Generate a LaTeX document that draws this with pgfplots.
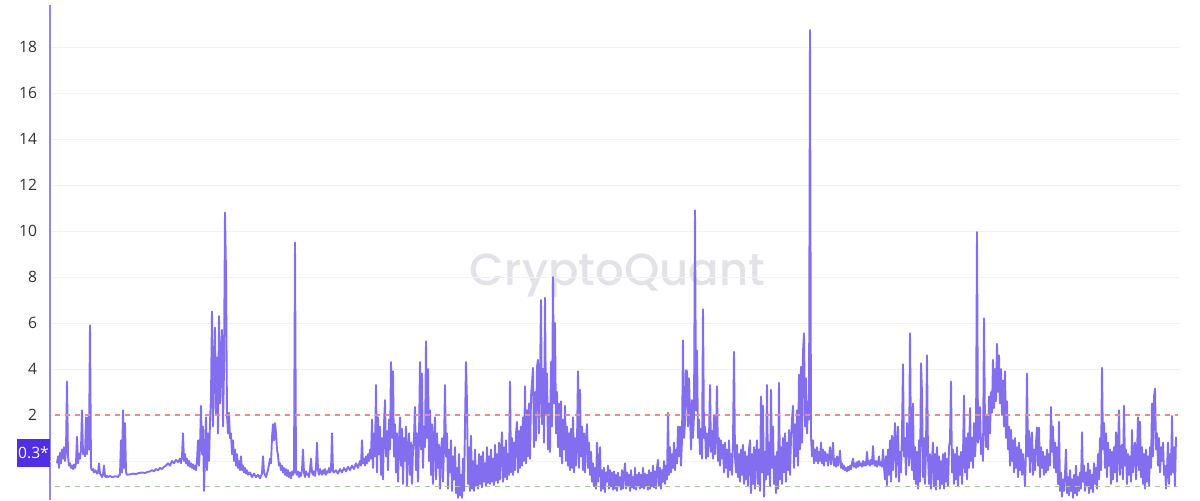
\documentclass[border=0pt]{standalone}
\usepackage{pgfplots}
\pgfplotsset{compat=1.18}
\usepackage{fontspec}
\setmainfont{Open Sans}
\newfontfamily\wmfont{Poppins Medium}
\definecolor{lineC}{RGB}{130,110,238}
\definecolor{axisC}{RGB}{150,130,240}
\definecolor{boxC}{RGB}{80,45,230}
\definecolor{redD}{RGB}{235,140,140}
\definecolor{greenD}{RGB}{150,210,140}
\definecolor{wmC}{RGB}{226,226,232}
\definecolor{gridC}{RGB}{242,242,244}
\definecolor{tickC}{RGB}{50,50,50}
\begin{document}
\begin{tikzpicture}
\useasboundingbox (-25pt,0pt) rectangle (575pt,250pt);
\node[anchor=base, inner sep=0pt, text=wmC] at (283.75pt,107.5pt) {\resizebox{147.5pt}{!}{\wmfont CryptoQuant}};
\begin{axis}[
  scale only axis, width=565pt, height=247.5pt,
  at={(0pt,0pt)}, anchor=south west,
  xmin=50, xmax=1180, ymin=-1.696, ymax=19.83,
  axis x line=none,
  axis y line*=left,
  y axis line style={color=axisC, line width=0.8pt},
  ytick={2,4,...,18},
  extra y ticks={0}, extra y tick labels={},
  extra y tick style={grid=major},
  ymajorgrids, grid style={color=gridC, line width=0.5pt},
  major tick length=0pt,
  yticklabel style={font=\fontsize{7.8}{9}\selectfont, text=tickC, xshift=-3pt},
  /pgf/number format/assume math mode=true,
  clip=true,
]
\addplot[color=lineC, line width=0.95pt, line join=round] coordinates {
(57,-0.1)(58,0.2)(59,-0.3)(60,0.35)(61,-0.1)(62,0.5)(63,0.1)(64,0.6)(65,0.0)(66,0.4)
(67,3.45)(68,0.2)(69,-0.2)(70,-0.1)(71,-0.3)(72,-0.2)(73,-0.35)(74,-0.15)(75,-0.3)(76,-0.1)
(77,1.05)(78,-0.1)(79,0.3)(80,0.1)(81,0.5)(82,2.2)(83,0.3)(84,0.5)(85,0.2)(86,1.9)
(87,0.3)(88,1.9)(89,0.5)(90,5.9)(91,-0.3)(92,-0.4)(93,-0.35)(94,-0.5)(95,-0.4)(96,-0.45)
(97,-0.55)(98,-0.5)(99,-0.1)(100,-0.55)(101,-0.6)(102,-0.7)(103,-0.6)(104,-0.2)(105,-0.65)(106,-0.7)
(107,-0.65)(108,-0.7)(110,-0.65)(112,-0.7)(114,-0.68)(116,-0.66)(118,-0.7)(119,-0.62)(120,-0.6)
(121,0.9)(122,-0.5)(123,2.2)(124,-0.3)(125,1.65)(126,-0.5)(127,-0.6)
(130,-0.58)(133,-0.55)(136,-0.57)(139,-0.52)(142,-0.5)(145,-0.52)(148,-0.47)(150,-0.45)
(152,-0.4)(154,-0.45)(156,-0.35)(158,-0.4)(160,-0.3)(162,-0.35)(164,-0.25)
(166,-0.2)(168,-0.1)(170,-0.2)(172,0.0)(174,-0.1)(176,0.05)(178,-0.05)(180,0.1)(181,-0.1)(182,0.2)
(183,1.2)(184,0.0)(185,0.3)(186,-0.1)(187,0.1)(188,-0.2)(189,0.0)(190,-0.25)(191,-0.1)(192,-0.3)
(193,-0.15)(194,-0.35)(195,-0.2)(196,-0.4)(197,0.0)(198,0.9)(199,-0.2)(200,0.6)(201,2.4)(202,0.3)
(203,1.5)(204,-1.3)(205,0.2)(206,1.9)(207,-0.4)(208,1.2)(209,0.0)(210,1.7)(211,2.8)(212,6.5)
(213,1.5)(214,4.1)(215,5.8)(216,2.0)(217,4.5)(218,1.2)(219,6.3)(220,2.5)(221,4.8)(222,5.7)
(223,1.5)(224,4.0)(225,10.8)(226,8.2)(227,2.0)(228,1.2)(229,2.1)(230,1.0)(231,1.2)(232,0.3)
(233,0.9)(234,0.0)(235,0.5)(236,-0.2)(237,0.3)(238,-0.3)(239,0.0)(240,-0.4)(241,0.2)(242,-0.4)
(243,-0.2)(244,-0.5)(245,-0.3)(246,-0.55)(247,-0.4)(248,-0.6)(250,-0.5)(252,-0.7)(254,-0.55)(256,-0.7)
(258,-0.6)(260,-0.75)(262,-0.55)(263,0.2)(264,-0.5)(266,-0.7)(268,-0.4)(270,0.1)(271,-0.1)(272,1.0)
(273,1.6)(274,0.9)(275,1.65)(276,1.2)(277,0.5)(278,0.25)(279,-0.2)(280,-0.1)(281,-0.4)(282,-0.2)
(283,-0.5)(284,-0.3)(285,-0.6)(286,-0.35)(287,-0.65)(288,-0.4)(289,-0.7)(290,-0.5)(291,-0.75)(292,-0.45)
(293,-0.6)(294,-0.5)(295,9.5)(296,-0.5)(297,-0.6)(298,-0.45)(299,-0.7)(300,-0.5)(301,-0.65)(302,-0.4)
(303,0.5)(304,-0.5)(305,-0.7)(306,-0.45)(307,-0.6)(308,-0.55)(309,-0.7)(310,-0.4)(311,0.1)(312,-0.5)
(313,-0.6)(314,-0.45)(315,-0.65)(316,-0.3)(317,0.8)(318,-0.4)(319,-0.6)(320,-0.35)(321,-0.5)(322,-0.6)
(323,-0.4)(324,-0.55)(325,-0.35)(326,-0.6)(327,-0.45)(328,-0.5)(329,-0.3)(330,-0.5)(331,-0.4)(332,1.2)
(333,-0.45)(334,-0.5)(336,-0.4)(338,-0.55)(340,-0.35)(342,-0.5)(344,-0.3)(346,-0.45)(348,-0.25)(350,-0.4)
(352,-0.2)(354,-0.35)(356,-0.1)(358,-0.3)(360,0.0)(361,-0.2)(362,0.9)(363,-0.1)(364,0.1)(365,-0.2)
(366,0.2)(367,-0.1)(368,0.3)(369,0.0)(370,0.5)(371,0.1)(372,1.8)(373,-0.3)(374,1.2)(375,0.2)
(376,3.3)(377,-0.5)(378,1.9)(379,0.3)(380,1.5)(381,-0.6)(382,1.0)(383,-0.8)(384,1.6)(385,2.65)
(386,0.2)(387,1.3)(388,-0.4)(389,1.8)(390,0.5)(391,4.3)(392,1.0)(393,3.9)(394,0.2)(395,1.6)
(396,-0.5)(397,1.2)(398,-0.9)(399,0.8)(400,1.9)(401,-0.2)(402,1.4)(403,-1.0)(404,1.0)(405,0.0)
(406,1.5)(407,-1.1)(408,0.6)(409,1.2)(410,-0.6)(411,0.8)(412,-1.0)(413,0.5)(414,1.0)(415,2.35)
(416,-0.4)(417,1.2)(418,-0.9)(419,1.0)(420,4.3)(421,0.5)(422,3.8)(423,-0.3)(424,1.5)(425,0.6)
(426,5.2)(427,1.0)(428,4.0)(429,0.0)(430,2.2)(431,-0.6)(432,1.6)(433,-1.0)(434,0.8)(435,1.9)
(436,-0.8)(437,1.2)(438,-0.3)(439,0.7)(440,-1.2)(441,0.4)(442,1.0)(443,-0.9)(444,0.6)(445,3.3)
(446,0.2)(447,1.2)(448,-1.2)(449,0.5)(450,-0.5)(451,0.9)(452,-1.3)(453,0.2)(454,-0.8)(455,0.6)
(456,-1.4)(457,-0.3)(458,-1.6)(459,0.3)(460,-1.5)(461,-0.6)(462,-1.6)(463,0.1)(464,-1.3)(465,1.5)
(466,4.3)(467,2.5)(468,-1.0)(469,0.6)(470,-1.3)(471,1.1)(472,-1.2)(473,0.0)(474,-1.3)(475,0.5)
(476,-1.1)(477,-0.2)(478,-1.2)(479,0.3)(480,-1.0)(481,0.2)(482,-1.15)(483,0.4)(484,-0.9)(485,-0.1)
(486,-1.1)(487,0.6)(488,-0.95)(489,0.2)(490,-1.0)(491,0.5)(492,-0.9)(493,0.1)(494,-1.05)(495,0.7)
(496,-0.85)(497,0.3)(498,-0.95)(499,0.8)(500,-0.8)(501,0.4)(502,1.25)(503,-0.9)(504,0.6)(505,-0.7)
(506,0.9)(507,-0.8)(508,0.3)(509,-0.6)(510,3.45)(511,-0.5)(512,1.0)(513,-0.6)(514,0.8)(515,-0.4)
(516,1.2)(517,1.7)(518,-0.5)(519,1.3)(520,-0.3)(521,1.5)(522,-0.2)(523,1.9)(524,0.0)(525,3.25)
(526,-0.1)(527,2.2)(528,0.2)(529,2.5)(530,0.1)(531,2.8)(532,3.4)(533,4.05)(534,0.6)(535,3.0)
(536,0.9)(537,4.1)(538,4.4)(539,1.2)(540,3.5)(541,7.0)(542,1.6)(543,4.0)(544,0.8)(545,7.1)
(546,2.0)(547,3.8)(548,0.5)(549,2.5)(550,0.4)(551,4.3)(552,1.5)(553,8.0)(554,2.5)(555,6.0)
(556,1.2)(557,3.0)(558,0.6)(559,2.5)(560,0.2)(561,2.6)(562,-0.1)(563,1.8)(564,0.5)(565,2.4)
(566,0.0)(567,1.5)(568,-0.2)(569,1.2)(570,-0.4)(571,1.4)(572,-0.3)(573,1.9)(574,-0.5)(575,1.0)
(576,-0.2)(577,0.8)(578,3.9)(579,-0.3)(580,3.1)(581,0.2)(582,1.5)(583,-0.4)(584,1.2)(585,-0.5)
(586,0.9)(587,1.6)(588,-0.3)(589,0.8)(590,-0.6)(591,0.4)(592,-0.9)(593,-0.1)(594,-1.1)(595,-0.3)
(596,-1.2)(597,0.8)(598,-0.9)(599,-0.2)(600,0.6)(601,-1.3)(602,-0.4)(603,-1.2)(604,-0.3)(605,-1.35)
(606,-0.5)(607,-0.9)(608,-0.2)(609,-1.2)(610,-0.4)(611,-1.1)(612,-0.5)(613,-1.25)(614,-0.45)(615,-1.2)
(616,-0.6)(617,-1.3)(618,-0.5)(619,-1.1)(620,-0.7)(621,-1.25)(622,-0.4)(623,-1.2)(624,-0.6)(625,-0.1)
(626,-1.2)(627,-0.5)(628,-1.1)(629,-0.6)(630,-1.3)(631,-0.4)(632,-1.15)(633,-0.7)(634,-1.2)(635,-0.3)
(636,-1.25)(637,-0.6)(638,-1.1)(639,-0.5)(640,-1.2)(641,-0.6)(642,-1.15)(643,-0.3)(644,-1.2)(645,-0.55)
(646,-1.1)(647,-0.6)(648,-1.25)(649,-0.4)(650,-1.2)(651,-0.5)(652,-1.1)(653,-0.2)(654,-1.15)(655,-0.45)
(656,-1.2)(657,-0.3)(658,0.05)(659,-1.1)(660,-0.3)(661,-1.2)(662,-0.4)(663,-0.9)(664,0.0)(665,-1.0)
(666,-0.2)(667,-0.8)(668,2.1)(669,-0.6)(670,0.6)(671,-0.5)(672,0.3)(673,-0.3)(674,0.8)(675,-0.4)
(676,0.5)(677,-0.1)(678,1.5)(679,0.2)(680,1.5)(681,-0.2)(682,0.9)(683,5.25)(684,1.0)(685,1.65)
(686,3.95)(687,3.9)(688,1.5)(689,3.6)(690,2.0)(691,0.5)(692,2.65)(693,1.0)(694,2.0)(695,10.9)
(696,2.2)(697,4.8)(698,1.0)(699,1.8)(700,0.3)(701,1.4)(702,0.1)(703,6.6)(704,1.0)(705,1.5)
(706,0.1)(707,1.2)(708,0.2)(709,1.0)(710,3.3)(711,0.4)(712,1.3)(713,0.1)(714,2.0)(715,0.3)
(716,1.1)(717,3.25)(718,0.0)(719,1.0)(720,-0.2)(721,0.9)(722,0.1)(723,0.7)(724,-0.5)(725,0.8)
(726,-0.3)(727,0.5)(728,-0.7)(729,0.9)(730,-0.4)(731,0.3)(732,-0.6)(733,0.8)(734,4.75)(735,0.2)
(736,-0.5)(737,0.7)(738,-0.7)(739,0.3)(740,-0.9)(741,0.5)(742,-0.6)(743,0.7)(744,-1.0)(745,0.4)
(746,-0.8)(747,0.2)(748,-1.1)(749,0.5)(750,0.9)(751,-1.4)(752,0.3)(753,-1.0)(754,0.6)(755,-1.2)
(756,0.2)(757,0.9)(758,-1.0)(759,0.5)(760,-1.3)(761,2.8)(762,-0.5)(763,2.4)(764,-1.55)(765,0.4)
(766,-0.8)(767,3.3)(768,-0.6)(769,0.8)(770,-1.1)(771,3.1)(772,-0.3)(773,1.5)(774,-1.0)(775,0.2)
(776,-1.4)(777,0.4)(778,-1.2)(779,3.4)(780,-0.8)(781,0.6)(782,-1.0)(783,1.0)(784,-0.5)(785,1.2)
(786,-0.9)(787,0.8)(788,-0.4)(789,1.35)(790,-0.6)(791,1.0)(792,1.8)(793,2.4)(794,-0.3)(795,1.6)
(796,0.2)(797,2.2)(798,-0.2)(799,3.75)(800,0.5)(801,4.1)(802,0.8)(803,4.75)(804,5.55)(805,1.5)
(806,3.6)(807,1.2)(808,2.6)(809,1.8)(810,18.74)(811,1.05)(812,0.2)(813,0.9)(814,-0.1)(815,0.5)
(816,0.0)(817,0.6)(818,-0.1)(819,0.4)(820,0.0)(821,0.8)(822,-0.1)(823,0.5)(824,-0.2)(825,0.4)
(826,0.0)(827,0.3)(828,-0.2)(829,0.2)(830,0.6)(831,-0.15)(832,0.2)(833,0.8)(834,-0.2)(835,0.1)
(836,-0.25)(837,0.2)(838,-0.2)(839,0.0)(840,0.45)(841,-0.3)(842,-0.1)(843,-0.35)(844,-0.2)(845,-0.4)
(846,-0.3)(847,-0.45)(848,-0.25)(849,-0.4)(850,-0.2)(851,-0.35)(852,-0.1)(853,0.1)(854,-0.25)(855,-0.1)
(856,-0.3)(857,-0.05)(858,-0.25)(859,0.0)(860,-0.2)(861,-0.1)(862,-0.25)(863,0.0)(864,-0.2)(865,-0.05)
(866,-0.2)(867,0.4)(868,-0.15)(869,0.0)(870,-0.2)(871,0.05)(872,-0.15)(873,0.65)(874,-0.1)(875,-0.2)
(876,0.0)(877,-0.25)(878,-0.1)(879,0.2)(880,-0.2)(881,-0.05)(882,-0.25)(883,0.5)(884,-0.3)(885,-0.8)
(886,0.2)(887,-1.05)(888,0.5)(889,-0.6)(890,0.9)(891,-0.9)(892,1.1)(893,-0.4)(894,0.6)(895,1.65)
(896,-0.7)(897,0.8)(898,1.5)(899,-0.9)(900,0.4)(901,-0.5)(902,1.2)(903,4.2)(904,0.2)(905,1.0)
(906,-0.6)(907,1.65)(908,1.0)(909,-0.2)(910,5.55)(911,0.5)(912,-0.4)(913,2.5)(914,-0.8)(915,0.6)
(916,-1.0)(917,0.4)(918,-1.2)(919,0.9)(920,-0.9)(921,4.25)(922,2.95)(923,-0.7)(924,1.0)(925,-1.0)
(926,0.5)(927,4.6)(928,0.2)(929,-1.0)(930,0.3)(931,-1.2)(932,0.1)(933,0.8)(934,-1.1)(935,0.3)
(936,-1.25)(937,0.6)(938,-0.8)(939,0.2)(940,-1.2)(941,0.0)(942,-1.0)(943,0.3)(944,-1.2)(945,0.35)
(946,-0.9)(947,0.1)(948,-1.1)(949,0.6)(950,0.9)(951,3.45)(952,-0.5)(953,0.5)(954,-1.0)(955,0.3)
(956,-0.8)(957,0.6)(958,-1.1)(959,0.2)(960,-0.6)(961,0.4)(962,-1.0)(963,0.2)(964,2.85)(965,-0.5)
(966,1.0)(967,-0.8)(968,1.2)(969,-0.3)(970,2.3)(971,0.0)(972,1.0)(973,-0.3)(974,1.65)(975,0.2)
(976,1.0)(977,9.96)(978,0.8)(979,1.2)(980,2.35)(981,0.3)(982,1.0)(983,0.0)(984,6.2)(985,1.5)
(986,0.6)(987,2.0)(988,0.5)(989,2.8)(990,1.2)(991,3.0)(992,2.1)(993,4.4)(994,2.3)(995,4.0)
(996,2.6)(997,5.1)(998,3.0)(999,4.6)(1000,2.5)(1001,4.0)(1002,2.0)(1003,3.5)(1004,1.5)(1005,3.9)
(1006,1.0)(1007,2.6)(1008,0.5)(1009,1.5)(1010,-0.2)(1011,1.35)(1012,0.0)(1013,0.9)(1014,-0.5)(1015,1.0)
(1016,-0.3)(1017,0.6)(1018,-0.7)(1019,0.8)(1020,-0.4)(1021,0.5)(1022,-0.6)(1023,0.3)(1024,-0.3)(1025,-1.1)
(1026,0.5)(1027,3.8)(1028,0.2)(1029,1.3)(1030,-0.5)(1031,0.8)(1032,1.25)(1033,-0.6)(1034,0.5)(1035,-0.4)
(1036,0.8)(1037,1.45)(1038,-0.2)(1039,1.45)(1040,-0.7)(1041,0.6)(1042,-0.3)(1043,0.4)(1044,-0.6)(1045,0.2)
(1046,-0.5)(1047,0.5)(1048,-0.4)(1049,0.3)(1050,-0.2)(1051,2.35)(1052,0.4)(1053,1.5)(1054,-0.3)(1055,0.8)
(1056,-0.5)(1057,0.6)(1058,-1.0)(1059,1.7)(1060,-1.3)(1061,-0.5)(1062,-1.55)(1063,-0.8)(1064,-1.3)(1065,-0.6)
(1066,0.5)(1067,-1.4)(1068,-0.7)(1069,-1.5)(1070,-0.4)(1071,-1.3)(1072,-0.8)(1073,-1.6)(1074,-0.6)(1075,-1.4)
(1076,-0.2)(1077,-1.5)(1078,-0.7)(1079,-1.3)(1080,-0.5)(1081,-1.2)(1082,1.25)(1083,-0.9)(1084,-0.2)(1085,-1.3)
(1086,-0.5)(1087,-1.1)(1088,-0.1)(1089,-1.4)(1090,-0.4)(1091,-1.2)(1092,-0.6)(1093,-1.35)(1094,-0.1)(1095,-1.0)
(1096,-0.3)(1097,-1.2)(1098,0.3)(1099,-0.8)(1100,1.0)(1101,-0.4)(1102,4.05)(1103,0.5)(1104,1.65)(1105,-0.3)
(1106,1.2)(1107,-0.7)(1108,0.8)(1109,-0.2)(1110,0.5)(1111,-1.0)(1112,0.4)(1113,-0.8)(1114,0.6)(1115,-0.5)
(1116,1.25)(1117,-0.9)(1118,0.5)(1119,2.2)(1120,-0.6)(1121,0.3)(1122,0.7)(1123,-0.8)(1124,2.4)(1125,-0.2)
(1126,0.5)(1127,-1.0)(1128,0.3)(1129,-0.6)(1130,0.2)(1131,-0.9)(1132,1.35)(1133,-0.5)(1134,0.4)(1135,0.8)
(1136,-0.8)(1137,0.3)(1138,1.9)(1139,-0.4)(1140,1.7)(1141,-0.7)(1142,0.6)(1143,-1.0)(1144,0.3)(1145,-1.2)
(1146,0.5)(1147,-0.9)(1148,0.2)(1149,-1.1)(1150,0.6)(1151,-0.3)(1152,2.5)(1153,0.2)(1154,2.8)(1155,3.15)
(1156,0.5)(1157,1.2)(1158,-0.2)(1159,1.0)(1160,-0.5)(1161,0.6)(1162,0.0)(1163,0.8)(1164,-0.6)(1165,-0.2)
(1166,-1.2)(1167,-0.4)(1168,0.8)(1169,-1.0)(1170,0.3)(1171,-0.6)(1172,1.95)(1173,-0.5)(1174,0.6)(1175,-1.1)
(1176,1.05)
};
\addplot[color=redD, line width=0.6pt, dash pattern=on 2.5pt off 2.5pt] coordinates {(55,2) (1178,2)};
\addplot[color=greenD, line width=0.6pt, dash pattern=on 2.5pt off 2.5pt] coordinates {(55,-1.1) (1178,-1.1)};
\end{axis}
\node[fill=boxC, text=white, inner sep=0pt, minimum width=16.5pt, minimum height=14pt, font=\fontsize{7.8}{9}\selectfont] at (-8.25pt,23.5pt) {0.3*};
\end{tikzpicture}
\end{document}
